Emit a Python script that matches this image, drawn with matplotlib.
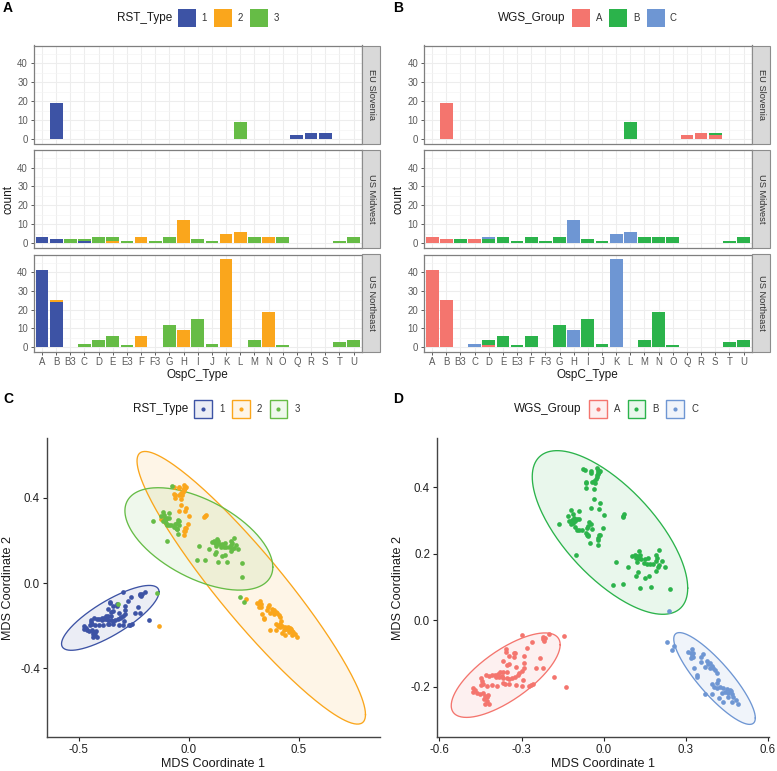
import numpy as np
import matplotlib
matplotlib.use("Agg")
import matplotlib.pyplot as plt
from matplotlib.patches import Rectangle

plt.rcParams['font.family'] = ['Liberation Sans', 'DejaVu Sans']
plt.rcParams['axes.unicode_minus'] = False

W, H = 777, 771
ospc_types = ['A','B','B3','C','D','E','E3','F','F3','G','H','I','J','K','L','M','N','O','Q','R','S','T','U']
regions = ['EU Slovenia', 'US Midwest', 'US Northeast']

#                 A  B B3  C  D  E E3  F F3  G  H  I  J  K  L  M  N  O  Q  R  S  T  U
rst1_slovenia = [ 0,19, 0, 0, 0, 0, 0, 0, 0, 0, 0, 0, 0, 0, 0, 0, 0, 0, 2, 3, 3, 0, 0]
rst2_slovenia = [ 0, 0, 0, 0, 0, 0, 0, 0, 0, 0, 0, 0, 0, 0, 0, 0, 0, 0, 0, 0, 0, 0, 0]
rst3_slovenia = [ 0, 0, 0, 0, 0, 0, 0, 0, 0, 0, 0, 0, 0, 0, 9, 0, 0, 0, 0, 0, 0, 0, 0]
rst1_midwest  = [ 3, 2, 0, 1, 0, 0, 0, 0, 0, 0, 0, 0, 0, 0, 0, 0, 0, 0, 0, 0, 0, 0, 0]
rst2_midwest  = [ 0, 0, 0, 0, 0, 1, 0, 3, 0, 0,12, 0, 0, 5, 6, 0, 3, 0, 0, 0, 0, 0, 0]
rst3_midwest  = [ 0, 0, 2, 1, 3, 2, 1, 0, 1, 3, 0, 2, 1, 0, 0, 3, 0, 3, 0, 0, 0, 1, 3]
rst1_north    = [41,24, 0, 0, 0, 0, 0, 0, 0, 0, 0, 0, 0, 0, 0, 0, 0, 0, 0, 0, 0, 0, 0]
rst2_north    = [ 0, 1, 0, 0, 0, 0, 0, 6, 0, 0, 9, 0, 0,47, 0, 0,19, 0, 0, 0, 0, 0, 0]
rst3_north    = [ 0, 0, 0, 2, 4, 6, 1, 0, 0,12, 0,15, 2, 0, 0, 4, 0, 1, 0, 0, 0, 3, 4]

wgsA_slovenia = [ 0,19, 0, 0, 0, 0, 0, 0, 0, 0, 0, 0, 0, 0, 0, 0, 0, 0, 2, 3, 2, 0, 0]
wgsB_slovenia = [ 0, 0, 0, 0, 0, 0, 0, 0, 0, 0, 0, 0, 0, 0, 9, 0, 0, 0, 0, 0, 1, 0, 0]
wgsC_slovenia = [ 0, 0, 0, 0, 0, 0, 0, 0, 0, 0, 0, 0, 0, 0, 0, 0, 0, 0, 0, 0, 0, 0, 0]
wgsA_midwest  = [ 3, 2, 0, 2, 0, 0, 0, 0, 0, 0, 0, 0, 0, 0, 0, 0, 0, 0, 0, 0, 0, 0, 0]
wgsB_midwest  = [ 0, 0, 2, 0, 2, 3, 1, 3, 1, 3, 0, 2, 1, 0, 0, 3, 3, 3, 0, 0, 0, 1, 3]
wgsC_midwest  = [ 0, 0, 0, 0, 1, 0, 0, 0, 0, 0,12, 0, 0, 5, 6, 0, 0, 0, 0, 0, 0, 0, 0]
wgsA_north    = [41,25, 0, 0, 1, 0, 0, 0, 0, 0, 0, 0, 0, 0, 0, 0, 0, 0, 0, 0, 0, 0, 0]
wgsB_north    = [ 0, 0, 0, 0, 3, 6, 1, 6, 0,12, 0,15, 2, 0, 0, 4,19, 1, 0, 0, 0, 3, 4]
wgsC_north    = [ 0, 0, 0, 2, 0, 0, 0, 0, 0, 0, 9, 0, 0,47, 0, 0, 0, 0, 0, 0, 0, 0, 0]

rst_labels = ['1', '2', '3']
wgs_labels = ['A', 'B', 'C']
rst_colors = ['#3D53A5', '#FAA61C', '#66BC46']
wgs_colors = ['#F4756E', '#2BB34B', '#6E96D3']

# MDS coordinates, grouped by (RST_Type, WGS_Group)
x_1A = [-.300,-.200,-.263,-.279,-.221,-.214,-.223,-.217,-.357,-.357,-.328,-.347,-.328,-.291,-.369,-.291,-.233,-.352,-.345,-.247,-.223,-.320,-.291,-.300,-.308,-.379,-.369,-.352,-.180,
        -.430,-.418,-.407,-.397,-.385,-.394,-.381,-.373,-.367,-.352,-.345,-.336,-.324,-.312,-.296,-.320,-.298,-.345,-.367,-.362,-.391,-.409,-.425,-.447,-.445,-.440,-.450,-.267,-.260,-.272,
        -.479,-.470,-.476,-.464,-.452,-.440,-.434,-.428,-.422,-.436,-.425,-.434,-.420]
y_1A = [-.043,-.040,-.064,-.084,-.049,-.052,-.056,-.061,-.087,-.094,-.099,-.108,-.109,-.107,-.122,-.127,-.112,-.134,-.132,-.142,-.142,-.141,-.144,-.152,-.159,-.154,-.154,-.156,-.171,
        -.164,-.167,-.166,-.164,-.162,-.172,-.170,-.167,-.175,-.173,-.176,-.173,-.170,-.165,-.180,-.195,-.198,-.193,-.190,-.193,-.198,-.195,-.198,-.174,-.183,-.191,-.195,-.195,-.193,-.198,
        -.203,-.210,-.217,-.218,-.223,-.220,-.227,-.230,-.225,-.237,-.243,-.251,-.253]
x_2A = [-.138]
y_2A = [-.201]
x_3A = [-.324,-.145]
y_3A = [-.098,-.048]
x_1B = [.126]
y_1B = [.186]
x_2B = [-.068,-.047,-.046,-.023,-.019,-.016,-.021,-.025,-.029,-.034,-.044,-.030,-.066,-.064,-.063,-.035,-.013,-.022,-.024,
        -.034,-.013,-.046,-.017,0.0,.076,.070,.072,-.003,-.013,-.019,-.016,-.021,-.021,-.125,-.117]
y_2B = [.451,.450,.444,.459,.452,.446,.440,.432,.425,.420,.415,.412,.417,.413,.399,.395,.450,.447,.436,
        .364,.354,.339,.336,.316,.319,.309,.314,.276,.256,.246,.257,.242,.227,.299,.301]
x_3B = [-.077,-.119,-.090,-.113,-.129,-.162,-.108,-.098,-.105,-.092,-.111,-.120,-.105,-.098,-.089,-.080,-.066,-.056,-.052,-.047,-.056,-.062,-.044,-.049,-.060,-.056,-.102,
        .128,.203,.103,.114,.123,.133,.118,.128,.135,.121,.151,.163,.190,.194,.190,.147,.157,.169,.181,.212,.203,.197,.191,.223,.046,.089,.125,.118,.164,.152,.035,.071,.131,.172,.242]
y_3B = [.454,.331,.329,.320,.313,.289,.306,.304,.299,.303,.291,.289,.281,.271,.271,.271,.261,.255,.296,.289,.283,.276,.273,.231,.257,.254,.195,
        .207,.212,.193,.196,.193,.195,.186,.186,.183,.175,.183,.186,.196,.186,.179,.171,.169,.169,.168,.178,.166,.159,.149,.159,.175,.159,.145,.134,.132,.128,.106,.110,.097,.101,.094]
x_2C = [.257,.323,.308,.318,.327,.321,.327,.319,.362,.357,.354,.370,.379,.388,.382,.395,.401,.407,.415,.331,.342,.342,.416,.415,.394,.403,.413,.425,.437,.449,.461,.443,.455,.467,.474,.455,.483,.489,.423,.437,.467,.370,.397,.431,.464,.388]
y_2C = [-.076,-.086,-.094,-.099,-.099,-.106,-.111,-.114,-.102,-.111,-.126,-.139,-.122,-.127,-.132,-.136,-.142,-.149,-.157,-.144,-.165,-.170,-.180,-.190,-.193,-.200,-.205,-.200,-.205,-.207,-.210,-.215,-.220,-.223,-.230,-.230,-.240,-.252,-.235,-.245,-.245,-.222,-.222,-.220,-.213,-.144]
x_3C = [.230,.250,.239]
y_3C = [-.064,-.088,.027]

# ellipses: centre x, centre y, half width, half height, correlation
ell_rst = [(-.3575,-.163,.2215,.152,.80), (.283,-.022,.519,.639,-.93), (.045,.207,.336,.240,-.55)]
ell_wgs = [(-.358,-.165,.199,.127,.72), (.023,.264,.284,.246,-.68), (.405,-.175,.149,.138,-.86)]

fig = plt.figure(figsize=(W/100, H/100), dpi=100)
fig.patch.set_facecolor('white')

def axes_px(l, t, r, b):
    return fig.add_axes([l/W, 1-b/H, (r-l)/W, (b-t)/H])

def ftext(x, y, s, **kw):
    kw.setdefault('ha', 'center'); kw.setdefault('va', 'center')
    fig.text(x/W, 1-y/H, s, **kw)

def frect(l, t, r, b, **kw):
    fig.add_artist(Rectangle((l/W, 1-b/H), (r-l)/W, (b-t)/H, transform=fig.transFigure, **kw))

def bar_panel(left, right, stacks, colors):
    tops = [45.5, 150, 254.5]
    bots = [143.5, 247.5, 351.7]
    idx = np.arange(len(ospc_types))
    for i, series in enumerate(stacks):
        ax = axes_px(left, tops[i], right, bots[i])
        bottom = np.zeros(len(idx))
        for s, c in zip(series, colors):
            v = np.array(s, float)
            ax.bar(idx, v, width=0.9, bottom=bottom, color=c, linewidth=0, zorder=3)
            bottom += v
        ax.set_xlim(-0.6, len(idx)-0.4)
        ax.set_ylim(-2.35, 49.35)
        ax.set_yticks([0,10,20,30,40])
        ax.set_yticks([5,15,25,35,45], minor=True)
        ax.set_xticks(idx)
        ax.set_xticklabels(ospc_types if i == 2 else [])
        ax.grid(True, which='major', color='#EDEDED', lw=0.8, zorder=0)
        ax.grid(True, which='minor', axis='y', color='#F4F4F4', lw=0.5, zorder=0)
        ax.tick_params(axis='y', which='minor', length=0)
        ax.tick_params(axis='y', which='major', labelsize=6.9, colors='#5A5A5A', length=2.5, width=0.7, pad=1.5)
        ax.tick_params(axis='x', labelsize=6.9, colors='#5A5A5A', length=2.5 if i == 2 else 0, width=0.7, pad=1.5)
        for sp in ax.spines.values():
            sp.set_color('#7F7F7F'); sp.set_linewidth(0.9)
        ax.set_axisbelow(True)
        frect(right, tops[i], right+18, bots[i], facecolor='#D9D9D9', edgecolor='#8C8C8C', lw=0.8)
        ftext(right+9.5, (tops[i]+bots[i])/2, regions[i], rotation=270, fontsize=6.7, color='#333333')

def legend_bar(title, title_right, y, keys, labels, colors):
    ftext(title_right, y, title, ha='right', fontsize=8.5, color='#1A1A1A')
    for (l, r, lx), lab, c in zip(keys, labels, colors):
        frect(l, y-8.7, r, y+8.7, facecolor=c, edgecolor='none')
        ftext(lx, y, lab, fontsize=6.9, color='#333333')

def legend_pts(title, title_right, y, keys, labels, colors):
    ftext(title_right, y, title, ha='right', fontsize=8.5, color='#1A1A1A')
    for (l, r, lx), lab, c in zip(keys, labels, colors):
        frect(l, y-9, r, y+9, facecolor=matplotlib.colors.to_rgba(c, 0.1), edgecolor=c, lw=1.0)
        fig.add_artist(plt.Line2D([(l+r)/2/W], [1-y/H], marker='o', ms=3.0, color=c, mew=0,
                                  transform=fig.transFigure))
        ftext(lx, y, lab, fontsize=6.9, color='#333333')

def mds_panel(left, right, xlim, ylim, xticks, yticks, groups, ell, colors):
    ax = axes_px(left, 438, right, 736.7)
    t = np.linspace(0, 2*np.pi, 240)
    for (cx, cy, a, b, r), c in zip(ell, colors):
        ex = cx + a*np.cos(t)
        ey = cy + b*(r*np.cos(t) + np.sqrt(1-r*r)*np.sin(t))
        ax.fill(ex, ey, facecolor=c, alpha=0.1, edgecolor='none', zorder=1)
        ax.plot(ex, ey, color=c, lw=0.95, zorder=2)
    for x, y, c in groups:
        ax.scatter(x, y, s=11.5, color=c, linewidths=0, zorder=3)
    ax.set_xlim(*xlim); ax.set_ylim(*ylim)
    ax.set_xticks(xticks); ax.set_yticks(yticks)
    ax.set_xticklabels([f'{v:.1f}' for v in xticks])
    ax.set_yticklabels([f'{v:.1f}' for v in yticks])
    ax.tick_params(labelsize=8.3, colors='#222222', length=3, width=0.8, pad=2)
    for s in ['top', 'right']:
        ax.spines[s].set_visible(False)
    for s in ['left', 'bottom']:
        ax.spines[s].set_color('#444444'); ax.spines[s].set_linewidth(1.0)
    return ax

# A
bar_panel(33.5, 362, [(rst1_slovenia, rst2_slovenia, rst3_slovenia),
                      (rst1_midwest, rst2_midwest, rst3_midwest),
                      (rst1_north, rst2_north, rst3_north)], rst_colors)
# B
bar_panel(423.7, 752, [(wgsA_slovenia, wgsB_slovenia, wgsC_slovenia),
                       (wgsA_midwest, wgsB_midwest, wgsC_midwest),
                       (wgsA_north, wgsB_north, wgsC_north)], wgs_colors)
for xc, xl in [(197.5, 8), (587.5, 398)]:
    ftext(xc, 375, 'OspC_Type', fontsize=8.5, color='#1A1A1A')
    ftext(xl, 199, 'count', rotation=90, fontsize=8.5, color='#1A1A1A')

legend_bar('RST_Type', 172.5, 18, [(178,196,204.5),(214,232,240.5),(250,268,276.5)], rst_labels, rst_colors)
legend_bar('WGS_Group', 565.5, 18, [(572,589.5,599),(609,627,636),(647,664.5,673.5)], wgs_labels, wgs_colors)

# C
mds_panel(47, 380, (-.645, .868), (-.72, .68), [-.5, 0., .5], [-.4, 0., .4],
          [(x_1A, y_1A, rst_colors[0]), (x_1B, y_1B, rst_colors[0]),
           (x_2A, y_2A, rst_colors[1]), (x_2B, y_2B, rst_colors[1]), (x_2C, y_2C, rst_colors[1]),
           (x_3A, y_3A, rst_colors[2]), (x_3B, y_3B, rst_colors[2]), (x_3C, y_3C, rst_colors[2])],
          ell_rst, rst_colors)
# D
mds_panel(437, 769, (-.609, .604), (-.35, .548), [-.6, -.3, 0., .3, .6], [-.2, 0., .2, .4],
          [(x_1A, y_1A, wgs_colors[0]), (x_2A, y_2A, wgs_colors[0]), (x_3A, y_3A, wgs_colors[0]),
           (x_1B, y_1B, wgs_colors[1]), (x_2B, y_2B, wgs_colors[1]), (x_3B, y_3B, wgs_colors[1]),
           (x_2C, y_2C, wgs_colors[2]), (x_3C, y_3C, wgs_colors[2])],
          ell_wgs, wgs_colors)
for xc, xl in [(213, 8), (603, 398)]:
    ftext(xc, 764, 'MDS Coordinate 1', fontsize=9.1, color='#1A1A1A')
    ftext(xl, 588, 'MDS Coordinate 2', rotation=90, fontsize=9.1, color='#1A1A1A')

legend_pts('RST_Type', 188.5, 409, [(194.5,212,222),(232,249.5,259.5),(269.5,287,297)], rst_labels, rst_colors)
legend_pts('WGS_Group', 581.5, 409, [(589,606.5,617),(627.5,645,655.5),(666,684,695)], wgs_labels, wgs_colors)

for (x, y, s) in [(8, 8, 'A'), (398, 8, 'B'), (8, 398.5, 'C'), (398, 398.5, 'D')]:
    ftext(x, y, s, fontsize=10, fontweight='bold', color='black')

fig.savefig('out.png', dpi=100)
